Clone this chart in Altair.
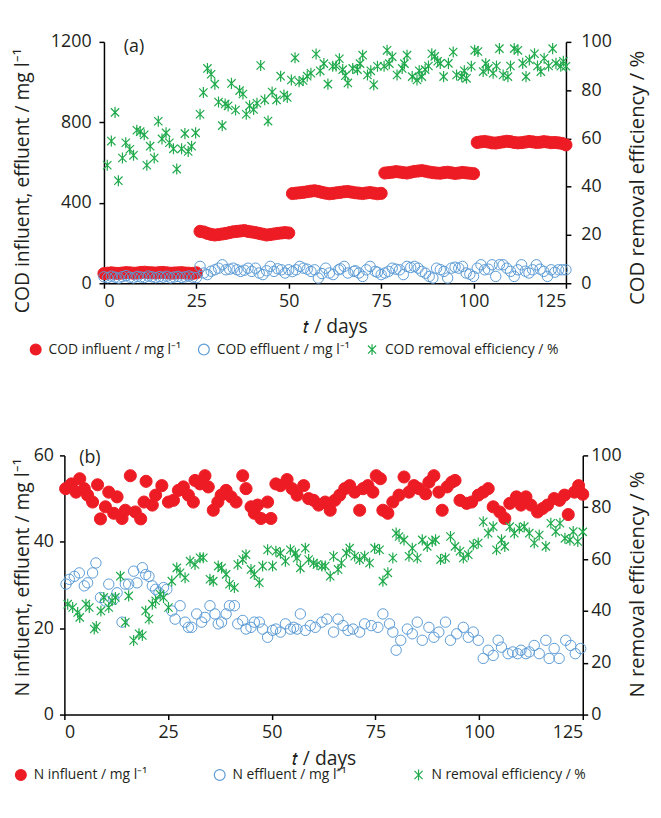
import altair as alt
import pandas as pd

FONT = "Open Sans"
INK = "#231F20"
RED = "#ED1C24"
BLUE = "#5B9BD5"
GREEN = "#1FAA4B"
STAR = "M-0.75,-0.75L0.75,0.75M-0.75,0.75L0.75,-0.75M0,-1L0,1"

# ---------------- Panel (a): COD ----------------
cod_series = ["COD influent / mg l⁻¹", "COD effluent / mg l⁻¹", "COD removal efficiency / %"]
x_ticks = [0, 25, 50, 75, 100, 125]
cod_left_ticks = [0, 400, 800, 1200]
cod_right_ticks = [0, 20, 40, 60, 80, 100]

cod_in_days = list(range(0, 126))
cod_in_vals = [
    48, 50, 52, 50, 49, 51, 53, 52, 50, 51, 54, 55, 53, 52, 51, 53, 54, 52, 50, 51, 52, 53, 51, 50, 49, 52,
    258, 255, 248, 243, 240, 242, 245, 248, 252, 256, 258, 260, 262, 258, 255, 252, 248, 244, 240, 242, 245, 248, 250, 252, 250,
    446, 448, 450, 452, 455, 458, 460, 457, 452, 448, 445, 447, 450, 452, 455, 456, 453, 450, 448, 446, 449, 451, 448, 445, 447,
    548, 550, 552, 555, 553, 550, 548, 552, 556, 558, 560, 557, 553, 550, 548, 547, 550, 552, 549, 546, 548, 551, 549, 547, 545,
    700, 703, 705, 702, 698, 697, 700, 703, 706, 704, 700, 698, 699, 702, 705, 703, 700, 701, 704, 702, 699, 700, 698, 695, 688,
]

cod_out_days = [0, 1, 2, 3, 4, 5, 6, 7, 8, 9, 10, 11, 12, 13, 14, 15, 16, 17, 18, 19, 20, 21, 22, 23, 24, 25,
                26, 27, 28, 29, 30, 31, 32, 33, 34, 35, 36, 37, 38, 39, 40, 41, 42, 43, 44, 45, 46, 47, 48, 49, 50,
                51, 52, 53, 54, 55, 56, 57, 58, 59, 60, 61, 62, 63.5, 64, 65, 66, 67.6, 68, 69, 70, 71, 72, 73.4, 74, 75,
                76, 77, 78, 79, 80, 81, 82, 83, 84, 85, 86, 87, 88, 89, 90, 91, 92, 93, 94, 95, 96, 97, 98, 99, 100,
                101, 102, 103, 104, 105, 106, 107, 108, 109, 110, 111, 112, 113, 114, 115, 116, 117, 118, 119, 120,
                121, 122, 123, 124, 125]
cod_out_vals = [32, 28, 35, 30, 26, 33, 38, 30, 27, 34, 31, 29, 36, 32, 28, 33, 30, 35, 27, 31, 34, 29, 32, 36, 30, 28,
                84, 51, 43, 60, 67, 75, 92, 67, 70, 75, 67, 59, 65, 75, 59, 75, 51, 43, 62, 84, 59, 72, 67, 51, 67,
                58, 67, 84, 75, 70, 59, 67, 26, 48, 75, 51, 43, 67, 72, 84, 51, 59, 62, 51, 34, 67, 84, 59, 55, 43,
                51, 59, 75, 70, 67, 43, 84, 78, 84, 75, 59, 50, 34, 26, 75, 68, 59, 26, 75, 80, 75, 84, 51, 45, 34,
                75, 92, 67, 70, 92, 34, 92, 92, 75, 59, 34, 67, 92, 60, 51, 67, 92, 70, 59, 34,
                67, 55, 67, 67, 67]

cod_rem_days = [0.9, 2, 3, 3.9, 5, 5.9, 7, 8, 8.9, 9.8, 10.9, 11.6, 12.5, 13.6, 14.7, 15.7, 16.8, 17.7, 18.8, 19.7,
                21, 21.9, 22.8, 23.7, 24.8, 26, 26.9, 28, 29, 30, 31, 32, 32.8, 33.6, 34.5, 35.6, 36.7, 37.6, 38.5,
                39.4, 40.5, 41.4, 42.4, 43.5, 44.4, 45.5, 46.7, 47.8, 48.7, 49.6, 50.7, 51.7, 52.8, 53.9, 55, 56,
                57.4, 58.5, 59.5, 60.6, 61.9, 62.8, 63.7, 64.6, 65.3, 66, 67.3, 68.6, 69.3, 70, 71.3, 72.2, 73, 74,
                75.8, 76.6, 77.2, 78, 79.3, 80.7, 81.3, 82, 83.4, 84.7, 85.3, 86, 86.9, 87.8, 88.7, 89.5, 90.3, 91,
                91.9, 93.2, 94.5, 95.4, 96.8, 97.5, 98.1, 99.4, 100.3, 101.2, 102.6, 103.3, 104, 105.3, 106.2, 107,
                108, 109.3, 110, 111, 112, 113.3, 114.2, 115.1, 116.5, 117.3, 118.2, 119.1, 120.3, 121.4, 122.3,
                123.6, 124.3, 125]
cod_rem_vals = [48.9, 58.9, 70.8, 42.5, 51.9, 58.2, 55.5, 53, 63.4, 62.8, 61.5, 48.9, 56.8, 51.9, 67.1, 59.8, 62.3, 58.2, 55.7, 47.3,
                55.7, 62, 54.6, 56.8, 62.3, 70, 79, 89, 86.6, 82.5, 75.1, 65.3, 74.3, 73.5, 82.8, 71.8, 79.8, 78.4, 70,
                73.5, 72, 74.6, 90.2, 76, 67.2, 79.2, 76, 85.8, 78, 77, 84.2, 93.4, 83.5, 84, 85.8, 87,
                95, 88, 91, 82.5, 89.9, 90, 93, 88.5, 86, 83, 89, 88.5, 91, 94.5, 86.3, 88, 82.2, 89.9,
                89.9, 96.5, 91, 93.8, 86.3, 89, 91, 94.5, 85.6, 84.2, 88, 85.6, 88.5, 90, 95.1, 94, 92, 91.1,
                85.6, 91.1, 95.8, 86.3, 85.6, 88, 84.9, 89.9, 96.5, 96, 87.7, 91, 89, 87, 90, 97.2,
                86.3, 85.6, 90, 97.2, 96.5, 91.1, 85.6, 92.5, 95.1, 90, 87.7, 93.2, 90, 97.2, 91.1,
                89.9, 92, 89.9]

# ---------------- Panel (b): N ----------------
n_series = ["N influent / mg l⁻¹", "N effluent / mg l⁻¹", "N removal efficiency / %"]
n_left_ticks = [0, 20, 40, 60]
n_right_ticks = [0, 20, 40, 60, 80, 100]

n_in_days = [0.3, 1.7, 2.8, 3.7, 4.8, 5.6, 6.8, 8, 8.7, 9.9, 10.7, 11.9, 12.7, 13.9, 14.7, 15.9, 17.1, 18.4, 19.2, 19.7,
             21.2, 22, 23.5, 25.1, 26.3, 27.5, 28.7, 29.9, 31.1, 31.5, 32.7, 33.9, 34.7, 35.9, 37, 37.8, 39, 40.2, 41.4,
             43, 43.8, 45, 45.8, 46.6, 47.4, 49, 49.8, 51, 52.1, 53.7, 54.9, 56.1, 57.7, 58.9, 60.1, 61.3, 62.9, 64.1,
             65.2, 66.4, 67.6, 68.8, 70, 71.2, 72, 73.2, 74.4, 75.2, 76.2, 76.8, 78, 79.2, 80.7, 81.9, 83.1, 84.3, 85.5,
             87.1, 87.9, 89.1, 90.3, 91.1, 92.3, 93.4, 94.2, 95.4, 97, 98.2, 99.8, 101, 102.2, 103.4, 105, 106.2, 107.4,
             109, 110.1, 111.3, 112.5, 114.1, 115.3, 116.5, 118.1, 119.4, 120.6, 121.5, 123, 124, 125]
n_in_vals = [52.3, 53.4, 51.5, 54.6, 52.3, 50.8, 49.2, 53.2, 45.3, 48.1, 51.5, 46.6, 50.4, 45.4, 47.3, 55.3, 46.9, 45.3, 49.2, 54,
             48.5, 50.8, 53, 49.2, 49.6, 51.9, 52.7, 50.8, 49.2, 54.2, 53.4, 55.3, 52.7, 47.3, 49.2, 50.8, 51.9, 50.4, 49.2,
             55.3, 52.3, 48.1, 46.6, 48.5, 45.4, 49.2, 45.4, 53.4, 53, 54.4, 52.3, 50.8, 53, 50, 49.6, 48.5, 49.2, 47.3,
             49.6, 50.8, 52.3, 53, 51.5, 47.3, 52.3, 53, 51.5, 55.3, 54.6, 47.3, 46.6, 49.2, 50.8, 55, 51.5, 53, 52.3,
             51.1, 53.8, 55.3, 51.5, 47.3, 52.7, 53.8, 54.2, 49.6, 48.9, 49.2, 50.8, 51.5, 52.3, 48.1, 46.9, 45.4, 48.9,
             50.4, 48.5, 50.4, 48.5, 46.9, 47.7, 48.5, 50, 49.6, 50.8, 46.3, 51.5, 53, 51]

n_out_days = [0.4, 1.2, 2.4, 3.6, 4.8, 5.6, 6.8, 7.6, 8.7, 9.9, 10.7, 11.9, 12.7, 13.9, 14.7, 15.5, 16.7, 17.5, 18.8, 19.6,
              20.4, 21.2, 22, 22.8, 23.9, 24.7, 25.9, 26.7, 27.9, 29.1, 29.9, 30.7, 31.9, 33.1, 33.9, 35.1, 36.3, 37.1,
              37.9, 39, 39.8, 41, 41.8, 43, 43.8, 45, 45.8, 47, 47.8, 49, 50.2, 51, 52.1, 53.3, 54.5, 55.3, 56.1, 56.9,
              58.1, 59.3, 60.5, 62.1, 63.3, 64.9, 66, 67.2, 68.4, 69.6, 71.2, 72.4, 74, 75.6, 76.8, 78.4, 79.2, 80, 81.1,
              82.7, 83.9, 85.1, 86.3, 87.9, 89.1, 90.3, 91.9, 93.1, 94.6, 96.2, 97.4, 98.6, 99.8, 101, 102.2, 103.4,
              104.6, 105.4, 107, 108.1, 109.3, 110.1, 111.3, 112.1, 113.3, 114.5, 116.1, 116.9, 118.1, 119.3, 120.9,
              122.1, 123.2, 124.5]
n_out_vals = [30.2, 31.3, 32, 32.8, 29.8, 30.5, 32.8, 35.1, 27.1, 26.3, 30.2, 26.7, 28.2, 21.4, 30.2, 30.2, 33.2, 30.5, 34, 32.4,
              32, 29.8, 29, 28.2, 29.4, 29, 24, 22.1, 25.2, 21.4, 20.2, 20.2, 23.3, 21.4, 22.5, 25.2, 23.3, 21,
              21.4, 23.3, 25.2, 25.2, 21, 21.8, 19.8, 20.2, 21.4, 21.4, 19.8, 17.9, 19.5, 19.8, 19.1, 21, 19.8, 20.2, 19.8, 23.3,
              19.5, 20.6, 20.2, 21.4, 22.1, 19.1, 22.1, 20.6, 19.5, 19.8, 19.1, 21, 20.6, 20.2, 23.3, 21, 19.1, 14.9, 17.2,
              19.8, 18.7, 21.4, 17.2, 20.2, 17.9, 19.1, 21.4, 17.2, 18.7, 20.2, 17.9, 19.1, 17.2, 13, 14.9, 13.7,
              17.2, 15.6, 14.1, 14.5, 14.1, 14.9, 14.1, 14.5, 16, 14.1, 17.2, 13, 15.3, 13, 17.2,
              16, 14.1, 15.3]

n_rem_days = [0.8, 2, 3.2, 3.7, 5.2, 6, 7.2, 7.7, 8.8, 9.5, 10.7, 11.5, 12.3, 13.5, 14.7, 15.5, 16.7, 18, 18.8, 19.6,
              20.4, 21.2, 22, 23.1, 23.9, 25.1, 25.9, 27.1, 27.9, 29.1, 30.3, 31.5, 32.7, 33.5, 35.1, 35.9, 37.1, 37.9,
              39, 39.8, 41, 41.8, 43, 43.8, 45, 45.8, 47, 47.8, 49, 50.2, 51, 52.1, 53.3, 54.5, 55.7, 56.1, 56.9, 58.1,
              58.9, 60.1, 60.9, 62.1, 62.9, 64.1, 64.9, 66, 66.8, 68, 68.8, 70, 71.2, 72.4, 73.6, 74.8, 76, 76.8, 78,
              79.2, 80, 80.7, 81.9, 83.1, 83.9, 85.1, 86.3, 87.5, 88.7, 89.5, 90.7, 91.9, 93.1, 94.2, 95.4, 96.2, 97.4,
              98.6, 99.8, 101, 102.2, 103.4, 104.2, 105.4, 106.2, 107.4, 108.5, 109.7, 110.9, 112.1, 113.3, 114.5,
              116.1, 117.3, 118.5, 119.5, 120.7, 121.9, 122.7, 123.8, 125]
n_rem_vals = [42.6, 41.3, 39.4, 37.5, 42.6, 41.3, 33, 34, 40, 45.2, 41.3, 43.9, 45.2, 53.4, 35.6, 45.8, 28.6, 31.2, 30.5, 40,
              36.9, 42.6, 43.9, 46.4, 45.2, 41.3, 51.5, 56.6, 54.7, 52.8, 59.2, 57.9, 60.5, 60.5, 52.2, 51.5, 57.3, 56.6,
              54.1, 50.3, 49, 57.9, 59.8, 61.7, 56, 54.1, 50.9, 57.3, 63.6, 57.3, 63, 62.3, 59.2, 63.6, 62.3, 60.4, 56.6, 64.2,
              59.8, 58.5, 57.9, 57.3, 57.3, 53.4, 61.1, 56, 58.5, 62.3, 64.2, 61.1, 59.8, 61.1, 58.5, 64.2, 63.6, 51.5, 54.7,
              60.4, 70, 68.7, 67.4, 61.1, 64.2, 60.4, 67.4, 64.9, 66.8, 67.4, 59.8, 60.4, 68.7, 64.9, 63, 60.4, 61.7,
              65.5, 66.2, 74.4, 70, 72.5, 63.6, 67.4, 64.9, 72.5, 70, 71.9, 72.5, 70, 66.2, 69.3,
              64.9, 73.8, 70.6, 73.8, 68, 67.4, 70.6, 66.8, 70.5]

panel_tags = ["(a)", "(b)"]


def frame(days, vals, name):
    return pd.DataFrame({"day": days, "value": vals, "series": name})


def panel(series, left_data, right_data, ydom, yticks, ytitle, rtitle, rticks, w, h, tag, tag_dx, tag_dy,
          lg_x, lg_y, lg_pad, lab_pad, title_pad, r_lab_pad, r_title_pad, l_title_y, r_title_y):
    legend = alt.Legend(orient="none", legendX=lg_x, legendY=lg_y, direction="horizontal",
                        title=None, columns=3, columnPadding=lg_pad)
    enc = dict(
        shape=alt.Shape("series:N", scale=alt.Scale(domain=series, range=["circle", "circle", STAR]), legend=legend),
        fill=alt.Fill("series:N", scale=alt.Scale(domain=series, range=[RED, "transparent", "transparent"]), legend=legend),
        stroke=alt.Stroke("series:N", scale=alt.Scale(domain=series, range=[RED, BLUE, GREEN]), legend=legend),
    )
    x = alt.X("day:Q", scale=alt.Scale(domain=[0, 125], nice=False, zero=False),
              axis=alt.Axis(values=x_ticks, title="𝑡 / days", titlePadding=8, labelPadding=4))
    yl = alt.Y("value:Q", scale=alt.Scale(domain=ydom, nice=False),
               axis=alt.Axis(values=yticks, format="d", title=ytitle, labelPadding=lab_pad,
                             titlePadding=title_pad, titleY=l_title_y))
    yr = alt.Y("value:Q", scale=alt.Scale(domain=[0, 100], nice=False),
               axis=alt.Axis(orient="right", values=rticks, format="d", title=rtitle, titleAngle=270,
                             titleBaseline="top", labelPadding=r_lab_pad, titlePadding=r_title_pad,
                             titleY=r_title_y, titleFontSize=20.5))
    red = alt.Chart(left_data[0]).mark_point(size=150, opacity=1, strokeWidth=1, filled=False).encode(x=x, y=yl, **enc)
    blue = alt.Chart(left_data[1]).mark_point(size=110, opacity=1, strokeWidth=1, filled=False).encode(x=x, y=yl, **enc)
    green = alt.Chart(right_data).mark_point(size=125, opacity=1, strokeWidth=1.2, filled=False).encode(x=x, y=yr, **enc)
    tag_mark = alt.Chart(pd.DataFrame({"tag": [tag]})).mark_text(
        align="left", baseline="middle", fontSize=18, font=FONT, color=INK
    ).encode(text="tag:N", x=alt.value(tag_dx), y=alt.value(tag_dy))
    return alt.layer(alt.layer(red, blue), green, tag_mark).resolve_scale(y="independent").properties(
        width=w, height=h)


def spacer():
    return alt.Chart(pd.DataFrame({"s": [0]})).mark_point(size=0, opacity=0).encode(
        x=alt.value(0), y=alt.value(0)).properties(width=1, height=1)


pa = panel(cod_series,
           [frame(cod_in_days, cod_in_vals, cod_series[0]), frame(cod_out_days, cod_out_vals, cod_series[1])],
           frame(cod_rem_days, cod_rem_vals, cod_series[2]),
           [0, 1200], cod_left_ticks, "COD influent, effluent / mg l⁻¹", "COD removal efficiency / %",
           cod_right_ticks, 467, 244, panel_tags[0], 20, 5, 18, 304, 15, 8, 18, 10, 17, 140, 137)

pb = panel(n_series,
           [frame(n_in_days, n_in_vals, n_series[0]), frame(n_out_days, n_out_vals, n_series[1])],
           frame(n_rem_days, n_rem_vals, n_series[2]),
           [0, 60], n_left_ticks, "N influent, effluent / mg l⁻¹", "N removal efficiency / %",
           n_right_ticks, 524, 262, panel_tags[1], 15, 3, 3, 316, 65, 6, 1, 3, 7, 123, 130)

chart = alt.vconcat(
    alt.hconcat(spacer(), pa, spacing=0),
    alt.hconcat(spacer(), pb, spacing=0),
    spacing=90,
).resolve_scale(
    shape="independent", fill="independent", stroke="independent"
).resolve_legend(
    shape="independent", fill="independent", stroke="independent"
).properties(
    padding={"left": 3, "top": 21, "right": 4, "bottom": 5}
).configure(font=FONT).configure_view(stroke=None).configure_axis(
    grid=False, domainColor="black", domainWidth=1.5, tickColor="black", tickWidth=1.5, tickSize=5,
    labelFont=FONT, labelFontSize=18, labelColor=INK, titleFont=FONT, titleFontSize=19.5,
    titleFontWeight="normal", titleColor=INK
).configure_legend(
    labelFont=FONT, labelFontSize=14, labelColor=INK, symbolSize=120, symbolStrokeWidth=1.2,
    labelLimit=0, labelOffset=6
).configure_title(font=FONT)

chart.save("out.html", embed_options={"renderer": "svg", "actions": False})
